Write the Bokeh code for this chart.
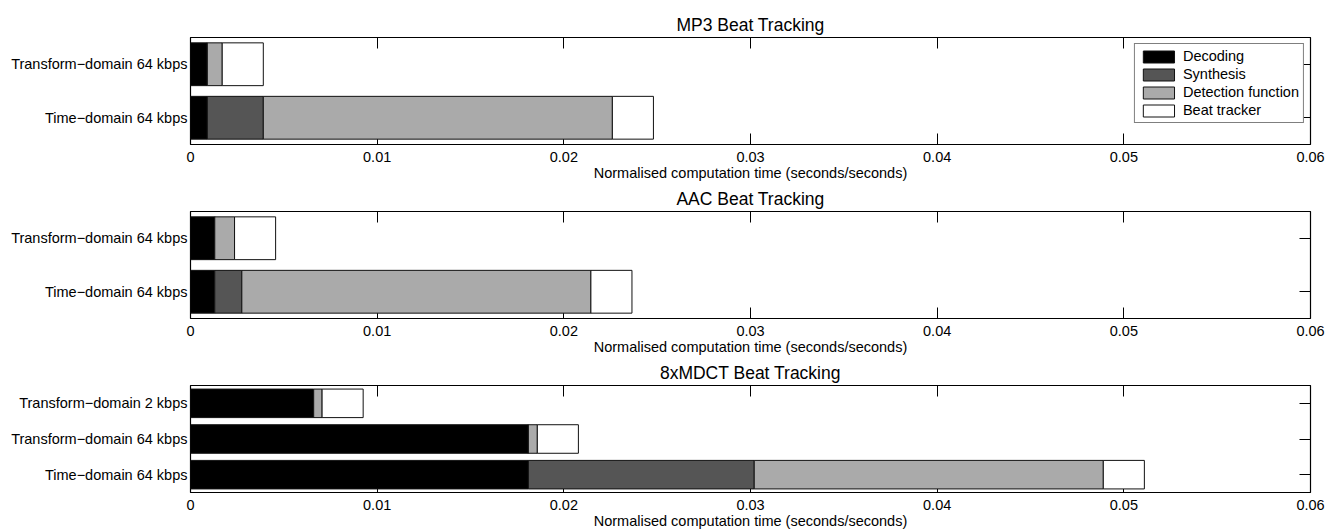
from bokeh.plotting import figure
from bokeh.layouts import column
from bokeh.models import (ColumnDataSource, FactorRange, Range1d, FixedTicker,
                          LinearAxis, CategoricalAxis, CustomJSTickFormatter)
from bokeh.embed import file_html
from bokeh.resources import INLINE

# ---------------- data ----------------
STAGES = ["Decoding", "Synthesis", "Detection function", "Beat tracker"]
COLORS = ["#000000", "#555555", "#aaaaaa", "#ffffff"]
XTICKS = [0, 0.01, 0.02, 0.03, 0.04, 0.05, 0.06]
XLABEL = "Normalised computation time (seconds/seconds)"

# categories listed bottom -> top
MP3_TITLE = "MP3 Beat Tracking"
MP3_CATS = ["Time−domain 64 kbps", "Transform−domain 64 kbps"]
MP3_DECODING = [0.0009, 0.0009]
MP3_SYNTHESIS = [0.0030, 0.0]
MP3_DETECTION = [0.0187, 0.0008]
MP3_BEAT = [0.0022, 0.0022]

AAC_TITLE = "AAC Beat Tracking"
AAC_CATS = ["Time−domain 64 kbps", "Transform−domain 64 kbps"]
AAC_DECODING = [0.0013, 0.0013]
AAC_SYNTHESIS = [0.00145, 0.0]
AAC_DETECTION = [0.0187, 0.00106]
AAC_BEAT = [0.0022, 0.0022]

MDCT_TITLE = "8xMDCT Beat Tracking"
MDCT_CATS = ["Time−domain 64 kbps", "Transform−domain 64 kbps", "Transform−domain 2 kbps"]
MDCT_DECODING = [0.0181, 0.0181, 0.0066]
MDCT_SYNTHESIS = [0.0121, 0.0, 0.0]
MDCT_DETECTION = [0.0187, 0.00048, 0.00045]
MDCT_BEAT = [0.0022, 0.0022, 0.0022]

FONT = "Liberation Sans"
EMPTY = "return ''"
FRAME_W, FRAME_H = 1120, 107


def tick_axis(ax):
    # ticks only, drawn beneath the bars
    ax.level = "underlay"
    ax.formatter = CustomJSTickFormatter(code=EMPTY)
    ax.axis_line_color = "black"
    ax.major_tick_in = 11
    ax.major_tick_out = 0
    ax.minor_tick_in = 0
    ax.minor_tick_out = 0
    ax.major_tick_line_color = "black"
    ax.major_label_standoff = 0
    ax.major_label_text_font_size = "1px"


def label_axis(ax):
    # labels only
    ax.axis_line_color = None
    ax.major_tick_line_color = None
    ax.minor_tick_line_color = None
    ax.major_tick_in = 0
    ax.major_tick_out = 0
    ax.minor_tick_in = 0
    ax.minor_tick_out = 0
    ax.major_label_text_font = FONT
    ax.major_label_text_font_size = "14.5px"
    ax.major_label_text_color = "black"
    ax.axis_label_text_font = FONT
    ax.axis_label_text_font_size = "14.5px"
    ax.axis_label_text_font_style = "normal"
    ax.axis_label_text_color = "black"


def panel(title, cats, dec, syn, det, beat, top_border, bottom_border, legend=False):
    src = ColumnDataSource(dict(cat=cats, Decoding=dec, Synthesis=syn,
                                **{"Detection function": det, "Beat tracker": beat}))
    p = figure(y_range=FactorRange(factors=cats), x_range=Range1d(XTICKS[0], XTICKS[-1]),
               frame_width=FRAME_W, frame_height=FRAME_H,
               min_border_left=190, min_border_right=22,
               min_border_top=top_border, min_border_bottom=bottom_border,
               output_backend="svg", toolbar_location=None,
               x_axis_location=None, y_axis_location=None)
    kw = dict(y="cat", height=0.8, source=src, fill_color=COLORS,
              line_color="#111111", line_width=1)
    if legend:
        kw["legend_label"] = STAGES
    p.hbar_stack(STAGES, **kw)

    # tick-only axes on all four sides (beneath bars)
    for loc in ("below", "above"):
        ax = LinearAxis(ticker=FixedTicker(ticks=XTICKS))
        tick_axis(ax)
        p.add_layout(ax, loc)
    for loc in ("left", "right"):
        ax = CategoricalAxis()
        tick_axis(ax)
        p.add_layout(ax, loc)

    # labelled axes
    bottom = LinearAxis(ticker=FixedTicker(ticks=XTICKS),
                        formatter=CustomJSTickFormatter(
                            code="return String(Math.round(tick*100)/100)"),
                        axis_label=XLABEL)
    label_axis(bottom)
    bottom.major_label_standoff = 7
    bottom.axis_label_standoff = 0
    p.add_layout(bottom, "below")

    left = CategoricalAxis()
    label_axis(left)
    left.major_label_standoff = 3
    p.add_layout(left, "left")

    p.grid.visible = False
    p.outline_line_color = "black"
    p.outline_line_width = 1.2
    p.background_fill_color = "white"
    p.border_fill_color = "white"

    p.title.text = title
    p.title.align = "center"
    p.title.text_font = FONT
    p.title.text_font_size = "17.5px"
    p.title.text_font_style = "normal"
    p.title.text_color = "black"
    p.title.standoff = 6

    if legend:
        lg = p.legend[0]
        lg.location = "top_right"
        lg.glyph_width = 39
        lg.glyph_height = 15
        lg.label_height = 15
        lg.spacing = 2
        lg.padding = 4
        lg.margin = 6
        lg.label_standoff = 5
        lg.label_text_font = FONT
        lg.label_text_font_size = "14.5px"
        lg.label_text_color = "black"
        lg.border_line_color = "black"
        lg.border_line_width = 1
        lg.background_fill_alpha = 1
    return p


p1 = panel(MP3_TITLE, MP3_CATS, MP3_DECODING, MP3_SYNTHESIS, MP3_DETECTION, MP3_BEAT,
           37, 39, legend=True)
p2 = panel(AAC_TITLE, AAC_CATS, AAC_DECODING, AAC_SYNTHESIS, AAC_DETECTION, AAC_BEAT,
           27, 39)
p3 = panel(MDCT_TITLE, MDCT_CATS, MDCT_DECODING, MDCT_SYNTHESIS, MDCT_DETECTION, MDCT_BEAT,
           27, 38)

layout = column(p1, p2, p3, spacing=0)
open("out.html", "w").write(file_html(layout, INLINE))
